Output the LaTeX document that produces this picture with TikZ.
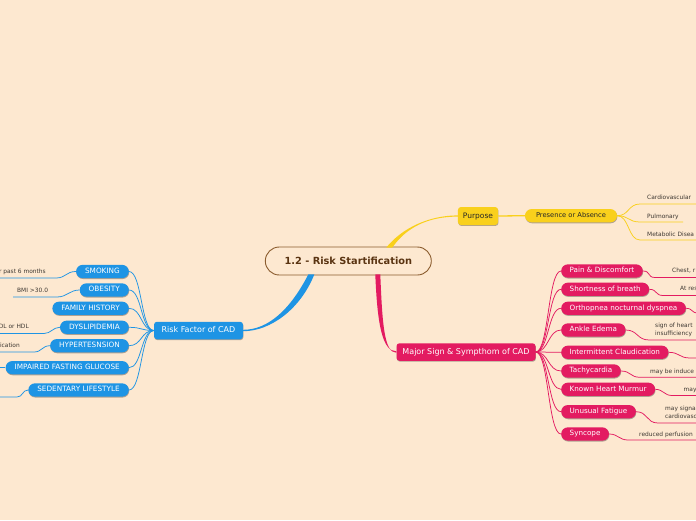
\documentclass[tikz,border=0pt]{standalone}
\usepackage{fontspec}
\setmainfont{DejaVu Sans}
\usetikzlibrary{calc,shadows}

\definecolor{bgpeach}{RGB}{253,232,208}
\definecolor{riskblue}{RGB}{30,148,228}
\definecolor{signpink}{RGB}{227,27,97}
\definecolor{purpyellow}{RGB}{249,208,28}
\definecolor{rootbrown}{RGB}{139,92,46}
\definecolor{roottext}{RGB}{90,52,18}
\definecolor{notegray}{RGB}{62,56,50}

\begin{document}
\begin{tikzpicture}[
		% Screen-like units: 1 unit = 1pt, y grows downwards
		x=1pt,
		y=-1pt,
		font=\fontsize{6.7}{8}\selectfont,
		softshadow/.style={drop shadow={shadow xshift=0.4pt, shadow yshift=-0.9pt, opacity=0.3, fill=black}},
		topicbox/.style={rounded corners=3pt, inner xsep=5pt, inner ysep=0pt, minimum height=17.5pt, text height=6pt, text depth=1.7pt, font=\fontsize{8}{9.5}\selectfont, softshadow},
		leafpill/.style={rounded corners=6.6pt, inner xsep=8pt, inner ysep=0pt, minimum height=13.3pt, text height=5pt, text depth=1.4pt, softshadow},
		riskitem/.style={leafpill, inner xsep=9pt, fill=riskblue, text=white, font=\fontsize{7.3}{8.5}\selectfont},
		signitem/.style={leafpill, inner xsep=8.5pt, fill=signpink, text=white, font=\fontsize{7.2}{8.5}\selectfont},
		notetext/.style={font=\fontsize{5.9}{8}\selectfont, text=notegray, inner sep=0pt, align=left},
		riskleaf/.style={draw=riskblue, line width=0.75pt},
		signleaf/.style={draw=signpink, line width=0.75pt},
		purpleaf/.style={draw=purpyellow, line width=0.75pt}
		]
		
		% ==========================================
		% 0. Canvas
		% ==========================================
		\fill[bgpeach] (0,0) rectangle (696,520);
		\useasboundingbox (0,0) rectangle (696,520);
		
		% ==========================================
		% 1. The central topic and the three main topics
		% ==========================================
		\node[draw=rootbrown, line width=0.9pt, fill=bgpeach, rounded corners=14pt, minimum width=166pt, minimum height=28pt, text=roottext, font=\fontsize{9.8}{11}\selectfont\bfseries] (c) at (348.3,261) {1.2 - Risk Startification};
		
		\node[topicbox, fill=purpyellow, text=black!85, minimum height=18pt, font=\fontsize{7.5}{9}\selectfont] (pu) at (478,216) {Purpose};
		\node[leafpill, fill=purpyellow, text=black!85, minimum width=92pt] (pr) at (571,215.7) {Presence or Absence};
		\node[topicbox, fill=riskblue, text=white, minimum width=89pt] (rf) at (198.5,330.5) {Risk Factor of CAD};
		\node[topicbox, fill=signpink, text=white, minimum width=139pt] (mj) at (466,352) {Major Sign \& Sympthom of CAD};
		
		% Tapered main branches
		\fill[purpyellow] ($(c.north)+(38,1)$) .. controls +(16,-20) and +(-28,0) .. ($(pu.west)+(0,-0.6)$) -- ($(pu.west)+(0,0.6)$) .. controls +(-30,0) and +(14,-20) .. ($(c.north)+(44,1)$) -- cycle;
		\fill[riskblue] ($(c.south)+(-40,-1)$) .. controls +(-18,35) and +(25,0) .. ($(rf.east)+(0,-0.7)$) -- ($(rf.east)+(0,0.7)$) .. controls +(27,0) and +(-14,35) .. ($(c.south)+(-34,-1)$) -- cycle;
		\fill[signpink] ($(c.south)+(27,-1)$) .. controls +(2,50) and +(-14,0) .. ($(mj.west)+(0,-0.7)$) -- ($(mj.west)+(0,0.7)$) .. controls +(-12,0) and +(2,50) .. ($(c.south)+(32,-1)$) -- cycle;
		
		\draw[purpyellow, line width=1.3pt] (pu.east) -- (pr.west);
		
		% ==========================================
		% 2. Purpose: presence or absence of ...
		% ==========================================
		\coordinate (u_card) at (640,204);
		\coordinate (u_pulm) at (640,222);
		\coordinate (u_meta) at (640,240);
		\draw[purpleaf] (pr.east) .. controls +(12,0) and +(-12,0) .. (u_card) -- ++(57,0);
		\draw[purpleaf] (pr.east) .. controls +(12,0) and +(-12,0) .. (u_pulm) -- ++(43,0);
		\draw[purpleaf] (pr.east) .. controls +(12,0) and +(-12,0) .. (u_meta) -- ++(57,0);
		\node[notetext, anchor=base west] (n_card) at (647,199) {Cardiovascular};
		\node[notetext, anchor=base west] (n_pulm) at (647,218) {Pulmonary};
		\node[notetext, anchor=base west] (n_meta) at (647,236) {Metabolic Disea};
		
		% ==========================================
		% 3. Risk factors (left side)
		% ==========================================
		\foreach \nm/\yy/\txt in {smk/271.5/SMOKING, obe/290/OBESITY, fam/308.3/FAMILY HISTORY, dys/327.3/DYSLIPIDEMIA, hyp/345.7/HYPERTESNSION, ifg/367.7/IMPAIRED FASTING GLUCOSE, sed/390/SEDENTARY LIFESTYLE} {
			\node[riskitem, anchor=east] (\nm) at (129,\yy) {\txt};
			\draw[riskleaf] (rf.west) .. controls +(-13,0) and +(13,0) .. (\nm.east);
		}
		
		% Notes of the risk factors
		\coordinate (u_smk) at (56,278);
		\draw[riskleaf] (smk.west) .. controls +(-10,0) and +(10,0) .. (u_smk) -- ++(-58,0);
		\node[notetext, anchor=base east] (n_smk) at (46,273) {r past 6 months};
		
		\coordinate (u_obe) at (57,297);
		\draw[riskleaf] (obe.west) .. controls +(-10,0) and +(10,0) .. (u_obe) -- ++(-44,0);
		\node[notetext, anchor=base west] (n_obe) at (17,292) {BMI >30.0};
		
		\coordinate (u_dys) at (44,333.5);
		\draw[riskleaf] (dys.west) .. controls +(-7,0) and +(7,0) .. (u_dys) -- ++(-46,0);
		\node[notetext, anchor=base east] (n_dys) at (29,328.5) {DL or HDL};
		
		\coordinate (u_hyp) at (34,352);
		\draw[riskleaf] (hyp.west) .. controls +(-8,0) and +(8,0) .. (u_hyp) -- ++(-36,0);
		\node[notetext, anchor=base east] (n_hyp) at (20,347) {ication};
		
		\draw[riskleaf] (ifg.west) -- ++(-6,0);
		
		\coordinate (u_sed) at (17,397);
		\draw[riskleaf] (sed.west) .. controls +(-6,0) and +(6,0) .. (u_sed) -- ++(-19,0);
		
		% ==========================================
		% 4. Major signs and symptoms (right side)
		% ==========================================
		\foreach \nm/\yy/\txt in {pain/271/Pain \& Discomfort, sob/289.3/Shortness of breath, orth/308.3/Orthopnea nocturnal dyspnea, ank/330/Ankle Edema, ic/352.3/Intermittent Claudication, tach/371/Tachycardia, khm/389.3/Known Heart Murmur, uf/411.7/Unusual Fatigue, syn/434/Syncope} {
			\node[signitem, anchor=west] (\nm) at (561,\yy) {\txt};
			\draw[signleaf] (mj.east) .. controls +(13,0) and +(-13,0) .. (\nm.west);
		}
		
		% Notes of the signs
		\coordinate (u_pain) at (655,277.5);
		\draw[signleaf] (pain.east) .. controls +(8,0) and +(-8,0) .. (u_pain) -- ++(43,0);
		\node[notetext, anchor=base west] (n_pain) at (672,272.5) {Chest, r};
		
		\coordinate (u_sob) at (663,295.5);
		\draw[signleaf] (sob.east) .. controls +(8,0) and +(-8,0) .. (u_sob) -- ++(35,0);
		\node[notetext, anchor=base west] (n_sob) at (680,290.5) {At res};
		
		\coordinate (u_orth) at (698,313);
		\draw[signleaf] (orth.east) .. controls +(7,0) and +(-7,0) .. (u_orth);
		
		\coordinate (u_ank) at (649,340);
		\draw[signleaf] (ank.east) .. controls +(12,0) and +(-12,0) .. (u_ank) -- ++(49,0);
		\node[notetext, anchor=west] (n_ank) at (655,330.2) {sign of heart\\insufficiency};
		
		\coordinate (u_ic) at (690,358);
		\draw[signleaf] (ic.east) .. controls +(11,0) and +(-11,0) .. (u_ic) -- ++(8,0);
		
		\coordinate (u_tach) at (640,377.3);
		\draw[signleaf] (tach.east) .. controls +(10,0) and +(-10,0) .. (u_tach) -- ++(58,0);
		\node[notetext, anchor=base west] (n_tach) at (650,373.5) {may be induce};
		
		\coordinate (u_khm) at (672,395.5);
		\draw[signleaf] (khm.east) .. controls +(8,0) and +(-8,0) .. (u_khm) -- ++(26,0);
		\node[notetext, anchor=base west] (n_khm) at (683.5,391) {may};
		
		\coordinate (u_uf) at (658,423);
		\draw[signleaf] (uf.east) .. controls +(12,0) and +(-12,0) .. (u_uf) -- ++(40,0);
		\node[notetext, anchor=west] (n_uf) at (665,412.3) {may signa\\cardiovasc};
		
		\coordinate (u_syn) at (628,440);
		\draw[signleaf] (syn.east) .. controls +(9,0) and +(-9,0) .. (u_syn) -- ++(70,0);
		\node[notetext, anchor=base west] (n_syn) at (639,436) {reduced perfusion};
		
	\end{tikzpicture}
\end{document}
